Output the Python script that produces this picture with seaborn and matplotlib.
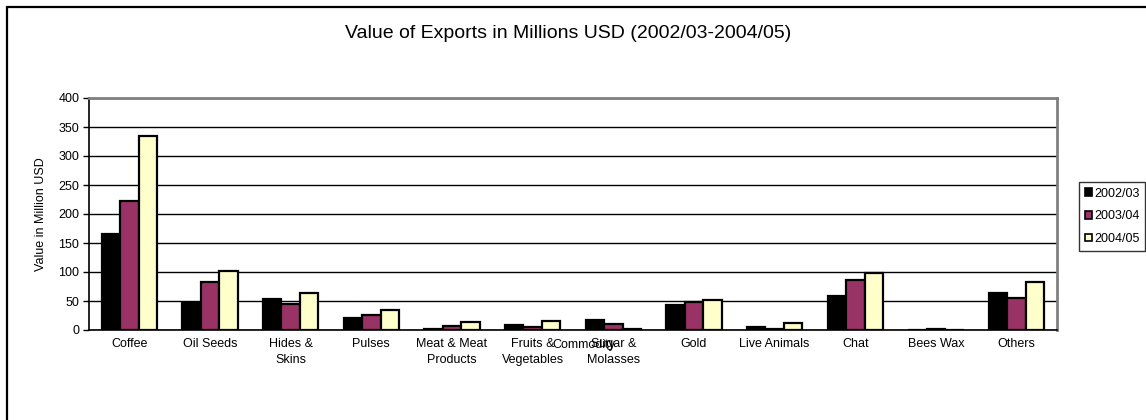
import matplotlib
matplotlib.use("Agg")
import matplotlib.pyplot as plt
from matplotlib.patches import Rectangle
from matplotlib.ticker import FixedLocator
import seaborn as sns
import pandas as pd
import numpy as np

commodities = ["Coffee", "Oil Seeds", "Hides &\nSkins", "Pulses", "Meat & Meat\nProducts",
               "Fruits &\nVegetables", "Sugar &\nMolasses", "Gold", "Live Animals", "Chat",
               "Bees Wax", "Others"]
years = ["2002/03", "2003/04", "2004/05"]
v_2002_03 = [166, 47, 53, 20, 2, 9, 18, 42.5, 6, 58.5, 0.6, 63]
v_2003_04 = [223, 83, 44, 26, 7, 6, 10, 49, 2, 87, 1.0, 55]
v_2004_05 = [335, 102, 63, 35, 14, 15, 1, 52, 12, 99, 0.7, 83]
colors = ["#000000", "#993366", "#FFFFCC"]

df = pd.DataFrame({
    "Commodity": commodities * 3,
    "Year": [y for y in years for _ in commodities],
    "Value": v_2002_03 + v_2003_04 + v_2004_05,
})

sns.set_style("white", {"text.color": "black", "axes.labelcolor": "black",
                        "xtick.color": "black", "ytick.color": "black"})
plt.rcParams["font.family"] = ["Liberation Sans", "DejaVu Sans"]

FS = 9

fig = plt.figure(figsize=(11.46, 4.2), dpi=100)
ax = fig.add_axes([89 / 1146, 90 / 420, (1057 - 89) / 1146, (330 - 98) / 420])

sns.barplot(data=df, x="Commodity", y="Value", hue="Year", palette=colors,
            order=commodities, hue_order=years, width=0.69, gap=0, saturation=1,
            edgecolor="black", linewidth=1.6, ax=ax, legend=False, errorbar=None)

ax.set_ylim(0, 400)
ax.set_xlim(-0.5, len(commodities) - 0.5)
ax.set_yticks(np.arange(0, 401, 50))
ax.yaxis.grid(True, color="black", linewidth=1.0)
ax.set_axisbelow(True)

# category boundary ticks on x axis
ax.xaxis.set_minor_locator(FixedLocator(np.arange(-0.5, len(commodities), 1)))
ax.tick_params(axis="x", which="major", length=0, labelsize=FS, pad=6, labelcolor="black")
ax.tick_params(axis="x", which="minor", length=4, width=1, color="black", direction="out")
ax.tick_params(axis="y", which="major", length=4, width=1, color="black", direction="out",
               labelsize=FS, pad=3, left=True, labelcolor="black")
for lab in ax.get_xticklabels():
    lab.set_linespacing(1.4)

for side in ["top", "right"]:
    ax.spines[side].set_color("#808080")
    ax.spines[side].set_linewidth(2)
for side in ["left", "bottom"]:
    ax.spines[side].set_color("black")
    ax.spines[side].set_linewidth(1.2)

ax.set_xlabel("")
ax.set_ylabel("Value in Million USD", fontsize=FS, labelpad=8, color="black")
fig.text(584 / 1146, 1 - 345 / 420, "Commodity", ha="center", va="center",
         fontsize=FS, color="black")

fig.text(568 / 1146, 1 - 33 / 420, "Value of Exports in Millions USD (2002/03-2004/05)",
         ha="center", va="center", fontsize=14, color="black")

handles = [Rectangle((0, 0), 1, 1, facecolor=c, edgecolor="black", linewidth=1.2) for c in colors]
leg = fig.legend(handles, years, loc="upper left", bbox_to_anchor=(1079 / 1146, 1 - 182 / 420),
                 frameon=True, fancybox=False, edgecolor="black", fontsize=FS,
                 handlelength=0.6, handleheight=0.6, handletextpad=0.15, borderpad=0.45,
                 labelspacing=0.85, borderaxespad=0, labelcolor="black")
leg.get_frame().set_linewidth(1.0)

fig.patches.append(Rectangle((7 / 1146, -0.05), 1.1, 1 - 7 / 420 + 0.05,
                             transform=fig.transFigure, fill=False, edgecolor="black",
                             linewidth=1.6, zorder=0))

fig.savefig("out.png", dpi=100)
